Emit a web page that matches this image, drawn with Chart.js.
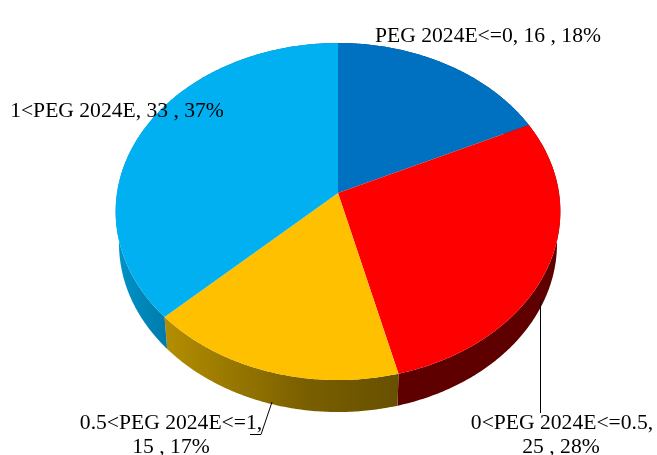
<!DOCTYPE html>
<html>
<head>
<meta charset="utf-8">
<style>
  html, body { margin: 0; padding: 0; background: #fff; }
  #wrap { width: 657px; height: 455px; }
</style>
<script src="https://cdn.jsdelivr.net/npm/chart.js@4"></script>
</head>
<body>
<div id="wrap"><canvas id="pie3d"></canvas></div>
<script>
const categories = ["PEG 2024E<=0", "0<PEG 2024E<=0.5", "0.5<PEG 2024E<=1", "1<PEG 2024E"];
const counts = [16, 25, 15, 33];
const shares = ["18%", "28%", "17%", "37%"];
const topColors = ["#0070C0", "#FF0000", "#FFC000", "#00B0F0"];

// perspective of the tilted disc, fitted by eye to the reference
const view = { cx: 338, cy: 193, rx: 221, ry: 145.3, persp: -0.1098, depth: 32, shrink: 0.985 };

function project(a) {
  const x = Math.cos(a), y = Math.sin(a);
  const d = 1 + view.persp * y;
  return { x: view.cx + view.rx * x / d, y: (view.cy + view.ry * y) / d };
}

function lower(p) {
  return { x: view.cx + (p.x - view.cx) * view.shrink, y: p.y + view.depth };
}

function rimPoints(start, end) {
  const steps = Math.max(2, Math.ceil((end - start) / 0.01));
  const pts = [];
  for (let i = 0; i <= steps; i++) pts.push(project(start + (end - start) * i / steps));
  return pts;
}

function wallFill(ctx, i) {
  if (i === 3) {
    const b = ctx.createLinearGradient(118, 0, 170, 0);
    b.addColorStop(0, "#0093C8");
    b.addColorStop(1, "#0079A8");
    return b;
  }
  if (i === 2) {
    const y = ctx.createLinearGradient(165, 0, 398, 0);
    y.addColorStop(0, "#B48E00");
    y.addColorStop(0.6, "#7A5F00");
    y.addColorStop(1, "#675000");
    return y;
  }
  if (i === 1) return "#5E0000";
  return "#003C68";
}

const pie3d = {
  id: "pie3d",
  beforeDatasetDraw(chart, args) {
    const ctx = chart.ctx;
    const arcs = chart.getDatasetMeta(args.index).data;

    // side walls first, the top faces then cover the hidden part
    arcs.forEach((arc, i) => {
      const pts = rimPoints(arc.startAngle, arc.endAngle);
      ctx.beginPath();
      pts.forEach((p, k) => k ? ctx.lineTo(p.x, p.y) : ctx.moveTo(p.x, p.y));
      pts.slice().reverse().forEach(p => {
        const q = lower(p);
        ctx.lineTo(q.x, q.y);
      });
      ctx.closePath();
      ctx.fillStyle = wallFill(ctx, i);
      ctx.fill();
    });

    arcs.forEach((arc, i) => {
      const pts = rimPoints(arc.startAngle, arc.endAngle);
      ctx.beginPath();
      ctx.moveTo(view.cx, view.cy);
      pts.forEach(p => ctx.lineTo(p.x, p.y));
      ctx.closePath();
      ctx.fillStyle = topColors[i];
      ctx.fill();
    });
    return false;
  },
  afterDatasetsDraw(chart) {
    const ctx = chart.ctx;
    ctx.save();
    ctx.strokeStyle = "#000";
    ctx.lineWidth = 1;
    ctx.beginPath();
    ctx.moveTo(540.5, 300);
    ctx.lineTo(540.5, 413);
    ctx.moveTo(272, 402);
    ctx.lineTo(261, 434.5);
    ctx.lineTo(250, 434.5);
    ctx.stroke();

    ctx.fillStyle = "#000";
    ctx.font = '21.6px "Liberation Serif"';
    ctx.textAlign = "center";
    ctx.textBaseline = "alphabetic";
    const text = i => `${counts[i]} , ${shares[i]}`;
    ctx.fillText(`${categories[0]}, ${text(0)}`, 488, 42);
    ctx.fillText(`${categories[3]}, ${text(3)}`, 117, 117);
    ctx.fillText(`${categories[2]},`, 171, 429);
    ctx.fillText(text(2), 171, 453);
    ctx.fillText(`${categories[1]},`, 562, 429);
    ctx.fillText(text(1), 561, 453);
    ctx.restore();
  }
};

new Chart(document.getElementById("pie3d"), {
  type: "pie",
  data: {
    labels: categories,
    datasets: [{ data: counts, backgroundColor: topColors, borderWidth: 0 }]
  },
  options: {
    responsive: true,
    maintainAspectRatio: false,
    animation: false,
    plugins: { legend: { display: false }, tooltip: { enabled: false } }
  },
  plugins: [pie3d]
});
</script>
</body>
</html>
